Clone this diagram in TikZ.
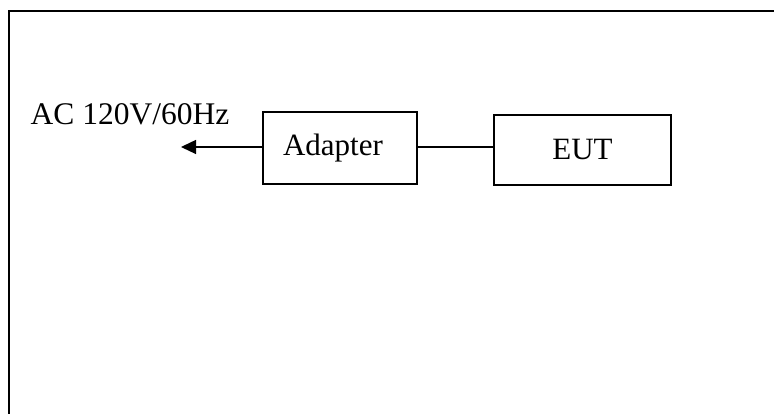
\documentclass[tikz,border=0pt]{standalone}
\usepackage{fontspec}
\setmainfont{Liberation Serif}
\usetikzlibrary{arrows.meta}
\begin{document}
\begin{tikzpicture}[x=1pt,y=1pt,
  blk/.style={draw,line width=1.5pt,rectangle,inner sep=0pt,font=\fontsize{31}{36}\selectfont},
  conn/.style={line width=1.3pt}]
\useasboundingbox (0,0) rectangle (774,414);
% outer frame (top and left edges visible)
\draw[line width=2pt] (9,0) -- (9,403) -- (780,403);
\node[blk,minimum width=154pt,minimum height=72pt] (adapter) at (340,266) {\hspace*{-14pt}Adapter};
\node[blk,minimum width=177pt,minimum height=70pt] (eut) at (582.5,264) {EUT};
\node[anchor=base,inner sep=0pt,font=\fontsize{31.5}{36}\selectfont] (ac) at (130,289) {AC 120V/60Hz};
\coordinate (tip) at (181,267);
\draw[conn,-{Triangle[length=15pt,width=14pt]}] (adapter.west |- tip) -- (tip);
\draw[conn] (adapter.east |- tip) -- (eut.west |- tip);
\end{tikzpicture}
\end{document}
